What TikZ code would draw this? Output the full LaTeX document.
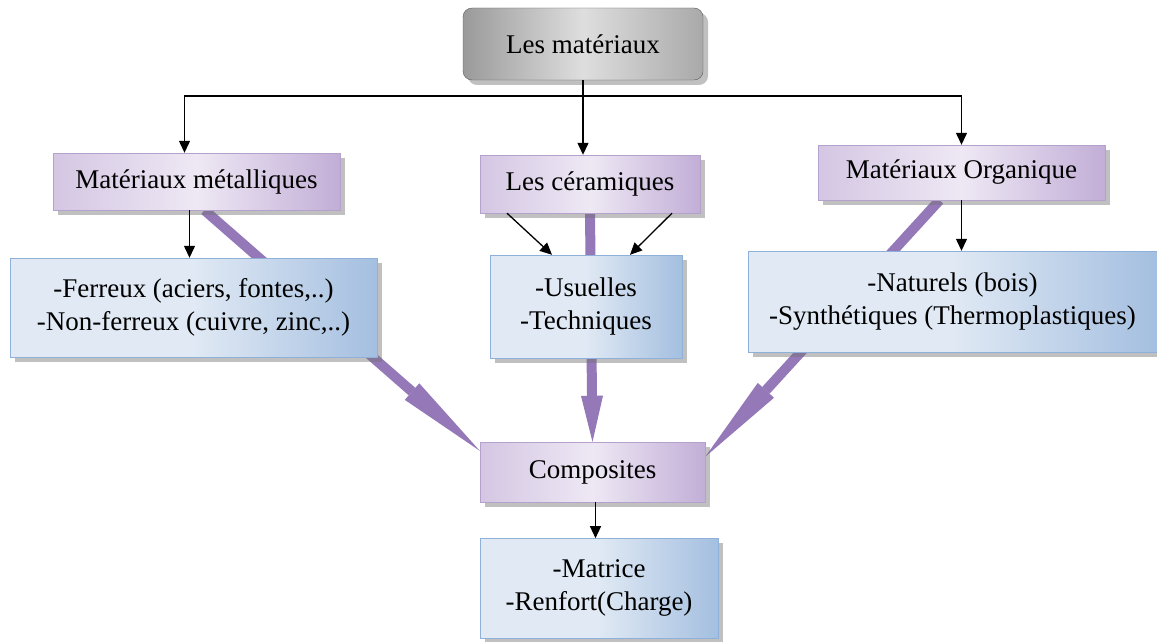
\documentclass[tikz,border=0pt]{standalone}
\usepackage{fontspec}
\setmainfont{Liberation Serif}
\usetikzlibrary{positioning,arrows.meta,shadows,backgrounds}
\definecolor{catfill}{HTML}{EEE8F4}
\definecolor{catdark}{HTML}{C2AED7}
\definecolor{catline}{HTML}{B4A1CC}
\definecolor{subfill}{HTML}{E0E9F4}
\definecolor{subdark}{HTML}{A4BFE0}
\definecolor{subline}{HTML}{8FB0D8}
\definecolor{rootfill}{HTML}{DEDEDE}
\definecolor{rootdark}{HTML}{9A9A9A}
\definecolor{linkfill}{HTML}{9478B8}
\tikzset{
  boxtext/.style={font=\fontsize{27}{33}\selectfont, align=center, inner sep=0pt, text=black},
  shade/.style={drop shadow={shadow xshift=5pt, shadow yshift=-5pt, opacity=.45, fill=black!55}},
  root/.style={boxtext, shade, draw=black!65, rounded corners=9pt, left color=rootdark, right color=rootdark!85, middle color=rootfill},
  cat/.style={boxtext, shade, draw=catline, left color=catdark!70, right color=catdark, middle color=catfill},
  sub/.style={boxtext, shade, draw=subline, left color=subfill, right color=subdark, middle color=subfill},
  flow/.style={-{Triangle[length=12pt,width=11pt]}, line width=1.3pt},
  link/.style={draw=linkfill, line width=10pt, -{Triangle[length=#1,width=22pt,line width=0pt]}},
  link/.default=90pt
}

\begin{document}
\begin{tikzpicture}[x=1pt, y=-1pt]
  \useasboundingbox (0,0) rectangle (1157,642);

  \node[root, minimum width=240, minimum height=72] (top) at (583,44) {Les matériaux};
  \node[cat, minimum width=287, minimum height=57] (metal) at (196.5,181.5) {Matériaux métalliques};
  \node[cat, minimum width=220, minimum height=58] (cer) at (590,184) {Les céramiques};
  \node[cat, minimum width=287, minimum height=55] (org) at (961.5,172.5) {Matériaux Organique};

  \node[sub, minimum width=367, minimum height=99] (fer) at (193.5,307.5) {-Ferreux (aciers, fontes,..)\\-Non-ferreux (cuivre, zinc,..)};
  \node[sub, minimum width=192, minimum height=103] (usu) at (586,306.5) {-Usuelles\\-Techniques};
  \node[sub, minimum width=409, minimum height=101] (nat) at (952.5,301.5) {-Naturels (bois)\\-Synthétiques (Thermoplastiques)};

  \node[cat, minimum width=225, minimum height=60] (compo) at (592.5,472) {Composites};
  \node[sub, minimum width=238, minimum height=100, below=36pt of compo, xshift=6.5pt] (mat) {-Matrice\\-Renfort(Charge)};

  % tree from the root
  \coordinate (bus) at (583,96);
  \draw[line width=1.3pt] (top.south) -- (bus);
  \draw[flow] (bus) -| ([xshift=-12pt]metal.north);
  \draw[flow] (bus) -- ([xshift=-7pt]cer.north);
  \draw[flow] (bus) -| (org.north);

  \draw[flow] ([xshift=-7pt]metal.south) -- ([xshift=-7pt]metal.south |- fer.north);
  \draw[flow] ([xshift=-83pt]cer.south) -- ([xshift=-34pt]usu.north);
  \draw[flow] ([xshift=82pt]cer.south) -- ([xshift=44pt]usu.north);
  \draw[flow] (org.south) -- (org.south |- nat.north);
  \draw[flow] ([xshift=3pt]compo.south) -- ([xshift=3pt]compo.south |- mat.north);

  % wide arrows to the composites
  \begin{scope}[on background layer]
    \draw[link] ([xshift=8pt]metal.south) -- ([yshift=-9pt]compo.north west);
    \draw[link=46pt] (cer.south) -- (compo.north);
    \draw[link] ([xshift=-22pt]org.south) -- ([yshift=-15pt]compo.north east);
  \end{scope}
\end{tikzpicture}
\end{document}
